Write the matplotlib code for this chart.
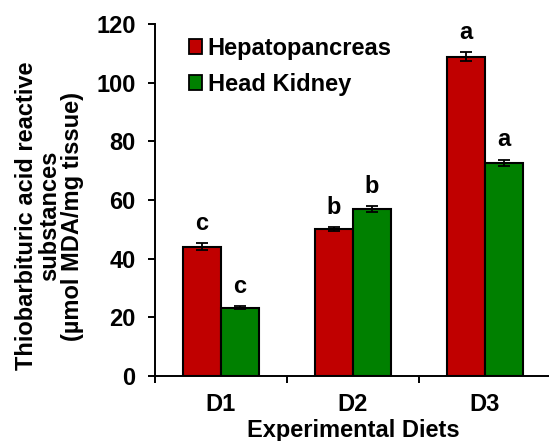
import numpy as np
import matplotlib.pyplot as plt
from matplotlib.patches import Patch

plt.rcParams['font.family'] = ['Liberation Sans', 'DejaVu Sans']
plt.rcParams['font.weight'] = 'bold'

diets = ['D1', 'D2', 'D3']
hepato = [44.1, 50.2, 108.9]
hepato_err = [1.2, 0.6, 1.6]
kidney = [23.3, 57.0, 72.7]
kidney_err = [0.5, 1.0, 1.1]
hepato_letters = ['c', 'b', 'a']
kidney_letters = ['c', 'b', 'a']

red = '#C00000'
green = '#008000'
fs = 17

fig = plt.figure(figsize=(5.49, 4.41), dpi=100)
ax = fig.add_axes([0.2823, 0.1474, 0.7213, 0.7982])

x = np.arange(len(diets))
w = 0.288
err_kw = dict(ecolor='black', elinewidth=1.3, capsize=4.5, capthick=1.3)
ax.bar(x - w / 2, hepato, w, yerr=hepato_err, color=red, edgecolor='black',
       linewidth=1.5, error_kw=err_kw, label='Hepatopancreas')
ax.bar(x + w / 2, kidney, w, yerr=kidney_err, color=green, edgecolor='black',
       linewidth=1.5, error_kw=err_kw, label='Head Kidney')

# significance letters above the error bars
for i in range(len(diets)):
    ax.annotate(hepato_letters[i], (x[i] - w / 2, hepato[i] + hepato_err[i]),
                xytext=(0, 6), textcoords='offset points', ha='center',
                va='bottom', fontsize=fs, fontweight='bold')
    ax.annotate(kidney_letters[i], (x[i] + w / 2, kidney[i] + kidney_err[i]),
                xytext=(0, 6), textcoords='offset points', ha='center',
                va='bottom', fontsize=fs, fontweight='bold')

ax.set_xlim(-0.5, 2.5)
ax.set_ylim(0, 120)
ax.set_yticks(np.arange(0, 121, 20))
ax.set_xticks(x)
ax.set_xticklabels(diets)
ax.set_xticks([-0.5, 0.5, 1.5, 2.5], minor=True)
ax.tick_params(axis='x', which='major', length=0, pad=12, labelsize=fs)
ax.tick_params(axis='x', which='minor', length=5, width=1.4, direction='out')
ax.tick_params(axis='y', length=5, width=1.4, direction='out', pad=9, labelsize=fs)
for lab in ax.get_xticklabels() + ax.get_yticklabels():
    lab.set_fontweight('bold')

for s in ['top', 'right']:
    ax.spines[s].set_visible(False)
ax.spines['left'].set_linewidth(1.4)
ax.spines['bottom'].set_linewidth(1.4)

ax.set_xlabel('Experimental Diets', fontsize=fs, fontweight='bold', labelpad=2.5)
fig.text(0.090, 0.51, 'Thiobarbituric acid reactive\nsubstances\n(µmol MDA/mg tissue)',
         rotation=90, ha='center', va='center', fontsize=fs, fontweight='bold',
         linespacing=1.0)

handles = [Patch(facecolor=red, edgecolor='black', linewidth=1.3),
           Patch(facecolor=green, edgecolor='black', linewidth=1.3)]
ax.legend(handles, ['Hepatopancreas', 'Head Kidney'], loc='upper left',
          bbox_to_anchor=(0.032, 1.024), frameon=False,
          handlelength=0.55, handleheight=0.55, handletextpad=0.25,
          labelspacing=0.55, prop={'weight': 'bold', 'size': fs})

fig.savefig('out.png', dpi=100)
